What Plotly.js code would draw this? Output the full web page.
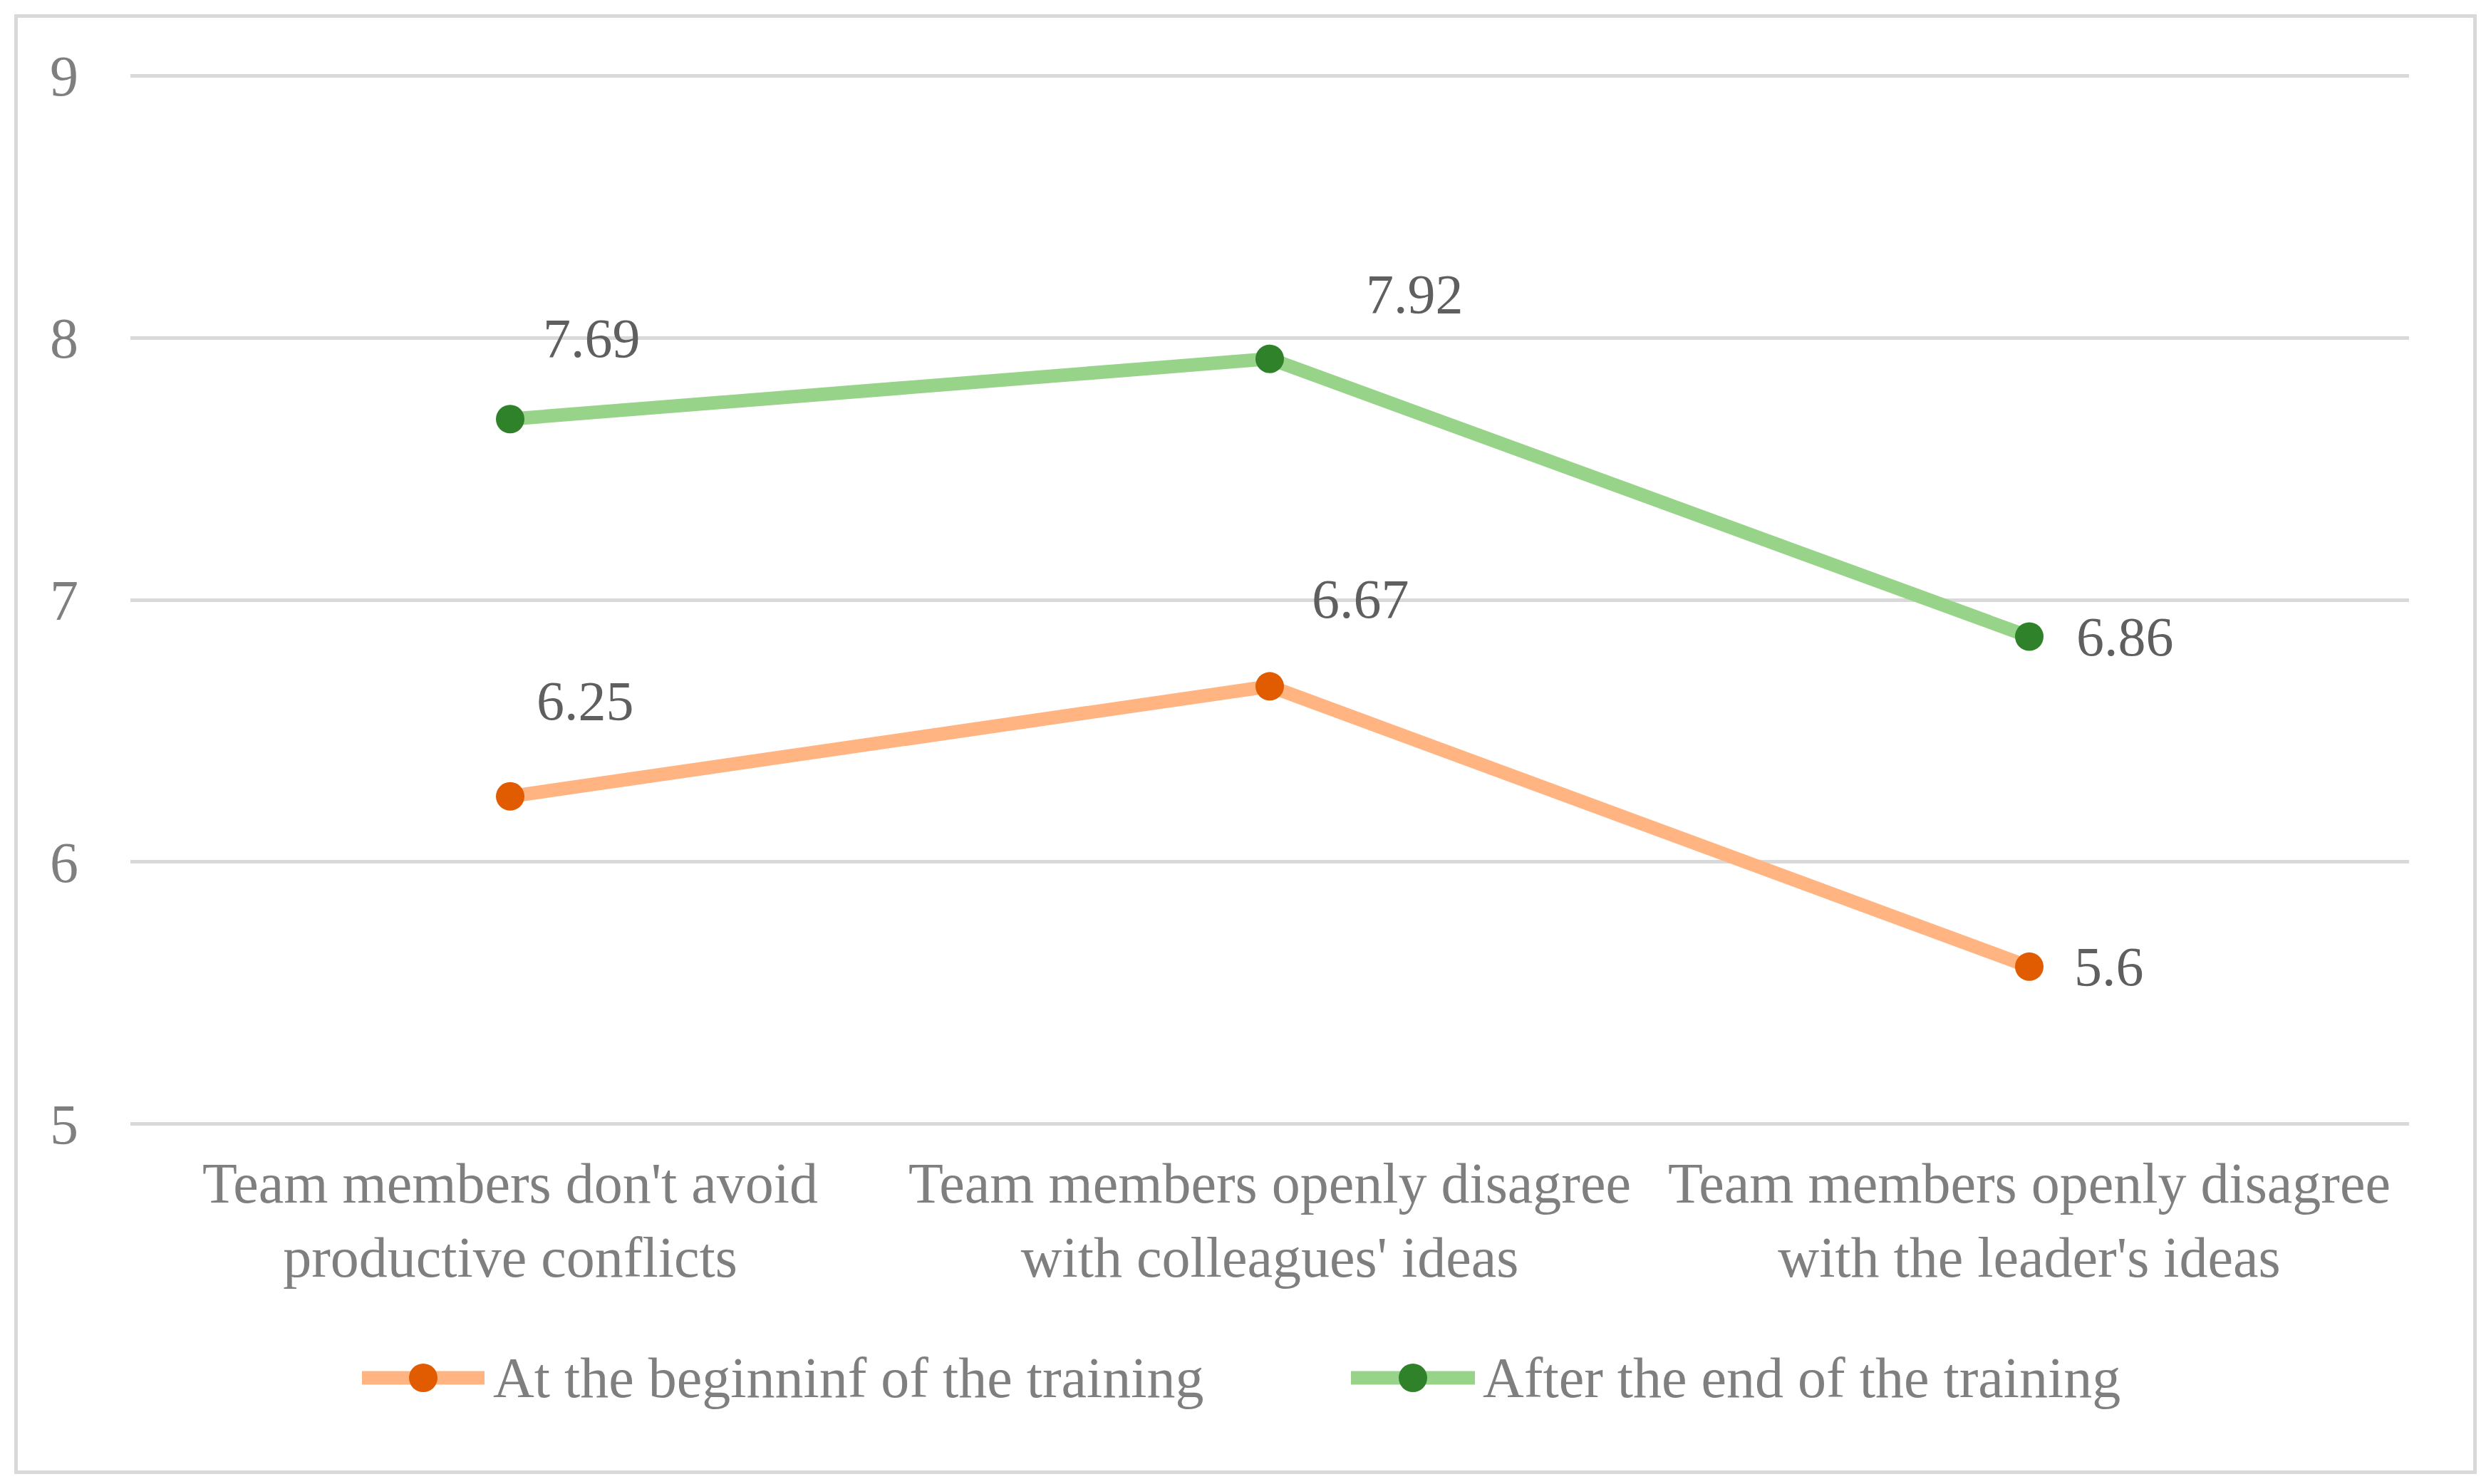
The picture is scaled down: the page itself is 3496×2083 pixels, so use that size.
<!DOCTYPE html>
<html>
<head>
<meta charset="utf-8">
<script src="https://cdn.plot.ly/plotly-3.0.1.min.js"></script>
<style>
  html, body { margin: 0; padding: 0; background: #ffffff; }
  #chart { width: 3496px; height: 2083px; position: relative; }
  #frame {
    position: absolute; left: 20px; top: 20px; width: 3446px; height: 2039px;
    border: 5px solid #d9d9d9; pointer-events: none;
  }
</style>
</head>
<body>
<div id="chart"><div id="frame"></div></div>
<script>
'use strict';

const categories = [
  "Team members don't avoid<br>productive conflicts",
  "Team members openly disagree<br>with colleagues' ideas",
  "Team members openly disagree<br>with the leader's ideas"
];
const seriesNames = ['At the beginninf of the training', 'After the end of the training'];
const beforeValues = [6.25, 6.67, 5.6];
const afterValues = [7.69, 7.92, 6.86];
const yTicks = [5, 6, 7, 8, 9];

// hand-placed label offsets (px), like the moved labels in the original
const beforeShift = [[105, 134], [127, 123], [112, 0]];
const afterShift = [[114, 114], [203, 91], [134, 0]];

const fontFamily = '"Liberation Serif", "DejaVu Serif", serif';
const tickGrey = '#7f7f7f';
const labelGrey = '#5f5f5f';
const beforeLine = '#ffb482', beforeDot = '#e15b00';
const afterLine = '#98d38a', afterDot = '#2f8229';

const W = 3496, H = 2083;
const margin = {l: 183, r: 115, t: 105, b: 504};
const plotW = W - margin.l - margin.r,
      plotH = H - margin.t - margin.b;

// page pixels -> paper coords
function px(x) { return (x - margin.l) / plotW; }
function py(y) { return (H - margin.b - y) / plotH; }

const traceBefore = {
  type: 'scatter',
  mode: 'lines+markers',
  name: seriesNames[0],
  x: categories,
  y: beforeValues,
  line: {color: beforeLine, width: 19},
  marker: {color: beforeDot, size: 40},
  showlegend: false
};

const traceAfter = {
  type: 'scatter',
  mode: 'lines+markers',
  name: seriesNames[1],
  x: categories,
  y: afterValues,
  line: {color: afterLine, width: 19},
  marker: {color: afterDot, size: 40},
  showlegend: false
};

function makeLabels(values, shifts) {
  return values.map(function (v, i) {
    return {
      x: categories[i],
      y: v,
      xref: 'x',
      yref: 'y',
      text: String(v),
      showarrow: false,
      xshift: shifts[i][0],
      yshift: shifts[i][1],
      font: {family: fontFamily, size: 78, color: labelGrey}
    };
  });
}

// legend drawn by hand so the sample line and dot keep the series size
function legendItem(name, lineColor, dotColor, lineX0, lineX1, textX, rowY) {
  let shapes = [
    {
      type: 'line', xref: 'paper', yref: 'paper',
      x0: px(lineX0), x1: px(lineX1), y0: py(rowY), y1: py(rowY),
      line: {color: lineColor, width: 19}
    },
    {
      type: 'circle', xref: 'paper', yref: 'paper',
      xsizemode: 'pixel', ysizemode: 'pixel',
      xanchor: px((lineX0 + lineX1) / 2), yanchor: py(rowY),
      x0: -20, x1: 20, y0: -20, y1: 20,
      fillcolor: dotColor, line: {width: 0}
    }
  ];
  let note = {
    xref: 'paper', yref: 'paper',
    x: px(textX), y: py(rowY),
    xanchor: 'left', yanchor: 'middle',
    text: name, showarrow: false,
    font: {family: fontFamily, size: 80, color: tickGrey}
  };
  return {shapes: shapes, note: note};
}

const legendA = legendItem(seriesNames[0], beforeLine, beforeDot, 508, 680, 690, 1934);
const legendB = legendItem(seriesNames[1], afterLine, afterDot, 1896, 2070, 2079, 1934);

var layout = {
  width: W,
  height: H,
  paper_bgcolor: 'rgba(0,0,0,0)',
  plot_bgcolor: 'rgba(0,0,0,0)',
  margin: margin,
  font: {family: fontFamily, size: 78, color: tickGrey},
  showlegend: false,
  xaxis: {
    type: 'category',
    range: [-0.5, 2.5],
    showgrid: false,
    zeroline: false,
    showline: false,
    ticks: '',
    ticklabelstandoff: 28,
    tickfont: {family: fontFamily, size: 80, color: tickGrey}
  },
  yaxis: {
    range: [4.996, 9.004],
    tickvals: yTicks,
    ticktext: yTicks.map(String),
    showgrid: true,
    gridcolor: '#d9d9d9',
    gridwidth: 5,
    zeroline: false,
    showline: false,
    ticks: '',
    ticklabelstandoff: 72,
    tickfont: {family: fontFamily, size: 80, color: tickGrey}
  },
  shapes: legendA.shapes.concat(legendB.shapes),
  annotations: makeLabels(beforeValues, beforeShift)
    .concat(makeLabels(afterValues, afterShift))
    .concat([legendA.note, legendB.note])
};

var config = {
  displayModeBar: false,
  responsive: false
};

Plotly.newPlot('chart', [traceBefore, traceAfter], layout, config);
</script>
</body>
</html>
